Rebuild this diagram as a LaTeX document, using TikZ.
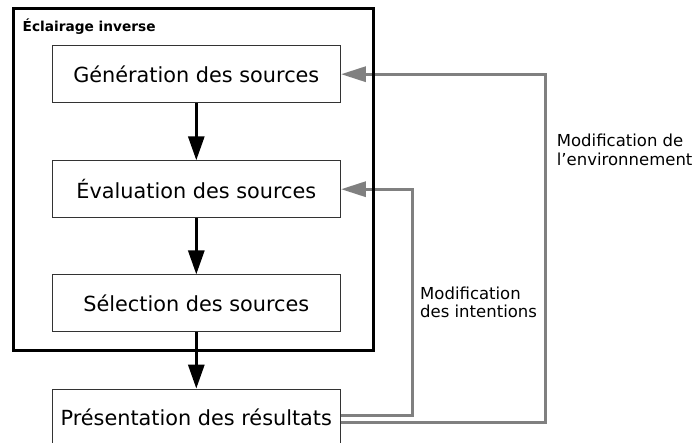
\documentclass[tikz,border=0pt]{standalone}
\usepackage{fontspec}
\setmainfont{DejaVu Sans}
\usetikzlibrary{arrows.meta}
\definecolor{fbgray}{HTML}{808080}
\tikzset{
  stage/.style={draw=black!80, line width=0.8pt, minimum width=288.5pt,
    minimum height=57pt, inner sep=0pt, font=\fontsize{20.8}{24}\selectfont},
  flow/.style={line width=3pt, -{Triangle[width=16pt,length=24pt]}},
  fbk/.style={draw=fbgray, line width=3.3pt, -{Triangle[width=15pt,length=25pt]}},
  lbl/.style={align=left, inner sep=0pt, anchor=base west,
    font=\fontsize{16.5}{18.5}\selectfont},
}
\def\dflow{\draw[flow]}
\def\dfbk{\draw[fbk]}

\begin{document}
\begin{tikzpicture}[x=1pt,y=-1pt]
  \useasboundingbox (0,0) rectangle (698,442);
  % the four stages
  \node[stage] (gen)  at (196.3, 74.2) {Génération des sources};
  \node[stage] (eval) at (196.3,189.2) {Évaluation des sources};
  \node[stage] (sel)  at (196.3,303.3) {Sélection des sources};
  \node[stage] (pres) at (196.3,417.5) {Présentation des résultats};
  % feedback loops
  \coordinate (inner) at (412.7,0);
  \coordinate (outer) at (545.7,0);
  \dfbk ([yshift=1.8pt]pres.east) -| (inner |- eval.east) -- (eval.east);
  \dfbk ([yshift=-4.8pt]pres.east) -| (outer |- gen.east) -- (gen.east);
  \node[lbl] (intent) at (420,317.7) {Modification\\des intentions};
  \node[lbl] (envir)  at (556.7,165) {Modification de\\l’environnement};
  % frame
  \draw[line width=3pt] (13,8) rectangle (373,350);
  \node[anchor=base west, inner sep=0pt, font=\bfseries\fontsize{13.7}{16}\selectfont]
    (title) at (22.5,31.7) {Éclairage inverse};
  \dflow (gen)  -- (eval);
  \dflow (eval) -- (sel);
  \dflow (sel)  -- (pres);
\end{tikzpicture}
\end{document}
